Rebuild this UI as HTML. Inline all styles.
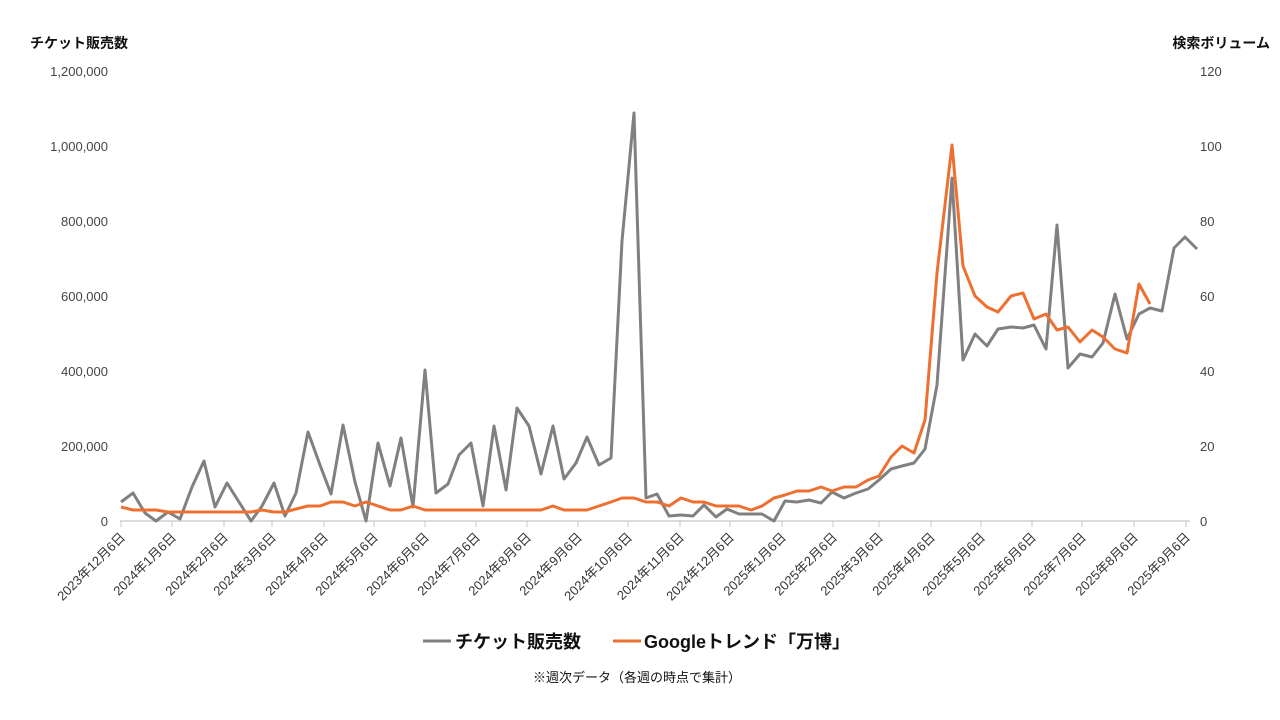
<!DOCTYPE html>
<html><head><meta charset="utf-8"><style>
html,body{margin:0;padding:0;background:#fff;}
svg{display:block;font-family:"Liberation Sans","Noto Sans CJK JP",sans-serif;}
</style></head><body>
<svg width="1280" height="720" viewBox="0 0 1280 720" xmlns="http://www.w3.org/2000/svg">
<text x="30" y="48" font-size="14" font-weight="bold" fill="#111">チケット販売数</text>
<text x="1270" y="48" font-size="14" font-weight="bold" fill="#111" text-anchor="end">検索ボリューム</text>
<g font-size="13" fill="#444" text-anchor="end">
<text x="108" y="76">1,200,000</text>
<text x="108" y="151">1,000,000</text>
<text x="108" y="226">800,000</text>
<text x="108" y="301">600,000</text>
<text x="108" y="376">400,000</text>
<text x="108" y="451">200,000</text>
<text x="108" y="526">0</text>
</g>
<g font-size="13" fill="#444">
<text x="1200" y="76">120</text>
<text x="1200" y="151">100</text>
<text x="1200" y="226">80</text>
<text x="1200" y="301">60</text>
<text x="1200" y="376">40</text>
<text x="1200" y="451">20</text>
<text x="1200" y="526">0</text>
</g>
<line x1="120" y1="521" x2="1190" y2="521" stroke="#d0d0d0" stroke-width="1.5"/>
<g stroke="#d0d0d0" stroke-width="1.2">
<line x1="121" y1="521" x2="121" y2="527"/><line x1="172" y1="521" x2="172" y2="527"/><line x1="224" y1="521" x2="224" y2="527"/><line x1="272" y1="521" x2="272" y2="527"/><line x1="324" y1="521" x2="324" y2="527"/><line x1="374" y1="521" x2="374" y2="527"/><line x1="425" y1="521" x2="425" y2="527"/><line x1="476" y1="521" x2="476" y2="527"/><line x1="527" y1="521" x2="527" y2="527"/><line x1="578" y1="521" x2="578" y2="527"/><line x1="628" y1="521" x2="628" y2="527"/><line x1="680" y1="521" x2="680" y2="527"/><line x1="730" y1="521" x2="730" y2="527"/><line x1="782" y1="521" x2="782" y2="527"/><line x1="833" y1="521" x2="833" y2="527"/><line x1="879" y1="521" x2="879" y2="527"/><line x1="931" y1="521" x2="931" y2="527"/><line x1="981" y1="521" x2="981" y2="527"/><line x1="1032" y1="521" x2="1032" y2="527"/><line x1="1082" y1="521" x2="1082" y2="527"/><line x1="1134" y1="521" x2="1134" y2="527"/><line x1="1186" y1="521" x2="1186" y2="527"/>
</g>
<g font-size="13" fill="#333" text-anchor="end">
<text transform="translate(126,538) rotate(-45)">2023年12月6日</text>
<text transform="translate(177,538) rotate(-45)">2024年1月6日</text>
<text transform="translate(229,538) rotate(-45)">2024年2月6日</text>
<text transform="translate(277,538) rotate(-45)">2024年3月6日</text>
<text transform="translate(329,538) rotate(-45)">2024年4月6日</text>
<text transform="translate(379,538) rotate(-45)">2024年5月6日</text>
<text transform="translate(430,538) rotate(-45)">2024年6月6日</text>
<text transform="translate(481,538) rotate(-45)">2024年7月6日</text>
<text transform="translate(532,538) rotate(-45)">2024年8月6日</text>
<text transform="translate(583,538) rotate(-45)">2024年9月6日</text>
<text transform="translate(633,538) rotate(-45)">2024年10月6日</text>
<text transform="translate(685,538) rotate(-45)">2024年11月6日</text>
<text transform="translate(735,538) rotate(-45)">2024年12月6日</text>
<text transform="translate(787,538) rotate(-45)">2025年1月6日</text>
<text transform="translate(838,538) rotate(-45)">2025年2月6日</text>
<text transform="translate(884,538) rotate(-45)">2025年3月6日</text>
<text transform="translate(936,538) rotate(-45)">2025年4月6日</text>
<text transform="translate(986,538) rotate(-45)">2025年5月6日</text>
<text transform="translate(1037,538) rotate(-45)">2025年6月6日</text>
<text transform="translate(1087,538) rotate(-45)">2025年7月6日</text>
<text transform="translate(1139,538) rotate(-45)">2025年8月6日</text>
<text transform="translate(1191,538) rotate(-45)">2025年9月6日</text>
</g>
<polyline fill="none" stroke="#808080" stroke-width="3" stroke-linejoin="round" points="121,502 133,493 145,513 156,521 168,512 180,519 192,487 204,461 215,507 227,483 239,502 251,521 262,506 274,483 285,516 296,493 308,432 320,465 331,494 343,425 355,482 366,521 378,443 390,486 401,438 413,507 425,370 436,493 448,484 459,455 471,443 483,506 494,426 506,490 517,408 529,426 541,474 553,426 564,479 576,463 587,437 599,465 611,458 622,241 634,113 646,498 657,494 669,516 681,515 693,516 704,505 716,517 727,509 739,514 750,514 762,514 774,521 785,501 797,502 809,500 821,503 832,492 844,498 856,493 868,489 879,480 891,469 902,466 914,463 925,449 937,385 952,178 963,360 975,334 987,346 998,329 1011,327 1023,328 1034,325 1046,349 1057,225 1068,368 1080,354 1092,357 1103,343 1115,294 1127,339 1139,314 1150,308 1162,311 1174,248 1185,237 1197,249"/>
<polyline fill="none" stroke="#ED7030" stroke-width="3" stroke-linejoin="round" points="121,507 133,510 156,510 168,512 251,512 262,510 274,512 285,512 296,509 308,506 320,506 331,502 343,502 355,506 366,502 378,506 390,510 401,510 413,506 425,510 541,510 553,506 564,510 587,510 599,506 611,502 622,498 634,498 646,502 657,502 669,506 681,498 693,502 704,502 716,506 739,506 751,510 762,506 774,498 785,495 797,491 809,491 821,487 832,491 844,487 856,487 868,480 879,476 891,457 902,446 914,453 925,420 937,273 952,145 963,266 975,296 987,307 998,312 1011,296 1023,293 1034,319 1046,314 1057,330 1068,327 1080,342 1092,330 1103,337 1115,349 1127,353 1139,284 1150,304"/>
<line x1="423" y1="641" x2="451" y2="641" stroke="#808080" stroke-width="3"/>
<text x="455" y="648" font-size="18" font-weight="bold" fill="#111">チケット販売数</text>
<line x1="613" y1="641" x2="641" y2="641" stroke="#ED7030" stroke-width="3"/>
<text x="644" y="648" font-size="18" font-weight="bold" fill="#111">Googleトレンド「万博」</text>
<text x="637" y="682" font-size="13" fill="#111" text-anchor="middle">※週次データ（各週の時点で集計）</text>
</svg>
</body></html>
